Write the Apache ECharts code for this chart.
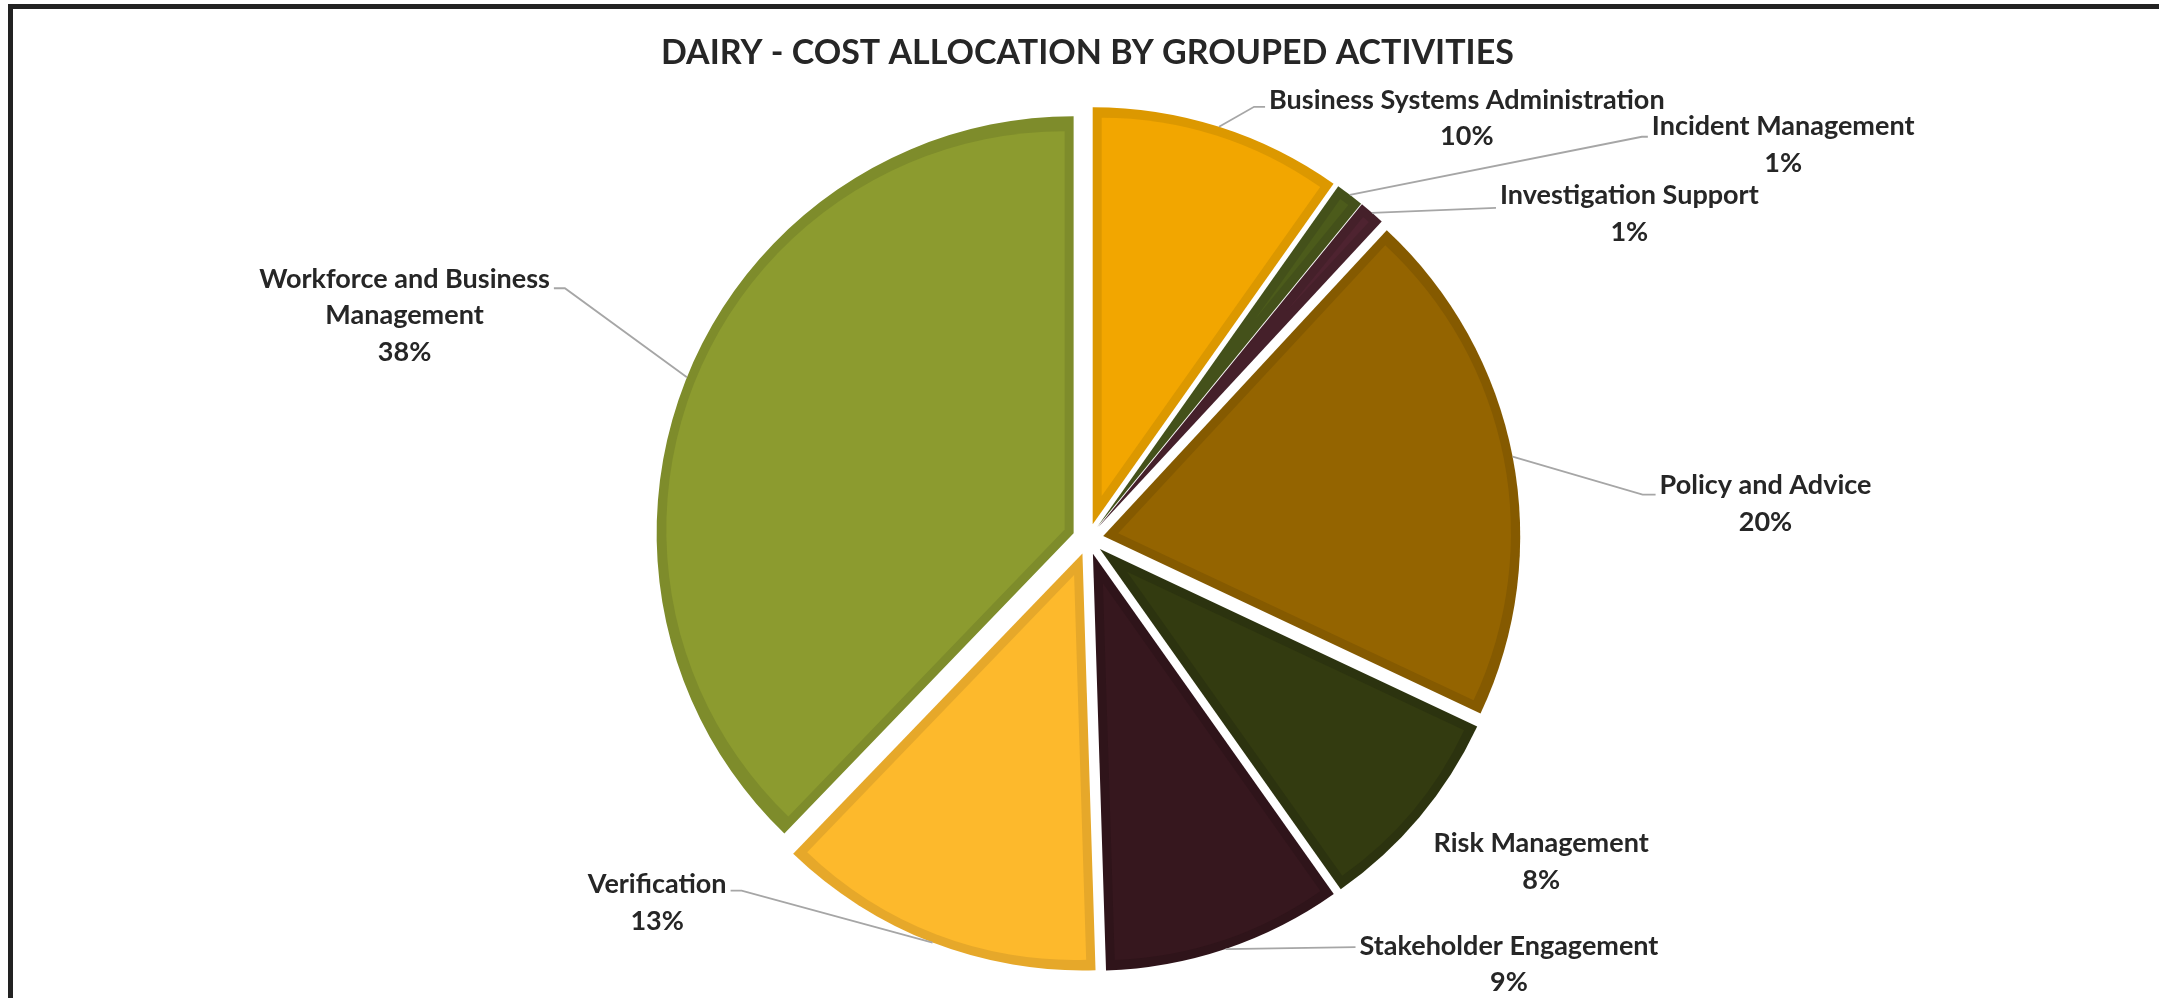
<!DOCTYPE html>
<html>
<head>
<meta charset="utf-8">
<title>Dairy - Cost Allocation by Grouped Activities</title>
<script src="https://cdn.jsdelivr.net/npm/echarts@6/dist/echarts.min.js"></script>
<style>
  html, body { margin: 0; padding: 0; background: #fff; }
  #chart { width: 2159px; height: 998px; }
</style>
</head>
<body>
<div id="chart"></div>
<script>
// slices, clockwise from 12 o'clock
var activities = [
  'Business Systems Administration',
  'Incident Management',
  'Investigation Support',
  'Policy and Advice',
  'Risk Management',
  'Stakeholder Engagement',
  'Verification',
  'Workforce and Business Management'
];
var shares = [9.8, 1.1, 1.0, 20.1, 8.2, 9.3, 12.7, 37.8];

// fill and the darker band just inside each slice edge
var fillColors = ['#F2A600', '#4C5B1B', '#4E2330', '#946400', '#333B10', '#36171E', '#FDB92C', '#8C9B2F'];
var edgeColors = ['#DC9800', '#44511A', '#45202A', '#855A00', '#2C330F', '#2F141A', '#E6A82A', '#7E8C2B'];

// leader line tweaks: elbow offset from the arc point, horizontal run, text nudge
// null run = no leader line drawn
var leaders = [
  [35, -20, 11, -7],
  [292, -58, 6, -10],
  [124, -5, 0, -12],
  [130, 38, 13, -9],
  [14, 31, null, -4],
  [130, -2, 0, -1],
  [-191, -52, -11, -6],
  [-122, -89, -11, -9]
];

var chart = echarts.init(document.getElementById('chart'));

var cx = 1088, cy = 539;  // pie centre before explosion
var radius = 417;
var explode = 15.5;       // every slice pulled out by this much
var band = 9;             // width of the darker rim
var fontFam = 'Lato, "Open Sans", sans-serif';
var labelSize = 27, lineH = 36.5;

var total = shares.reduce(function (a, b) { return a + b; }, 0);

function midAngle(i) {
  var before = 0;
  for (var k = 0; k < i; k++) before += shares[k];
  return (before + shares[i] / 2) / total * Math.PI * 2;
}

function halfAngle(i) {
  return shares[i] / total * Math.PI;
}

// one pie per slice layer, only slice i visible, pushed out along its bisector
function sliceLayer(i, offset, r, color) {
  var a = midAngle(i);
  return {
    type: 'pie',
    silent: true,
    animation: false,
    startAngle: 90,
    clockwise: true,
    center: [cx + offset * Math.sin(a), cy - offset * Math.cos(a)],
    radius: r,
    label: { show: false },
    labelLine: { show: false },
    emphasis: { disabled: true },
    data: shares.map(function (v, j) {
      return {
        name: activities[j],
        value: v,
        itemStyle: { color: color, opacity: j === i ? 1 : 0, borderWidth: 0, borderRadius: 0 }
      };
    })
  };
}

var series = [];
activities.forEach(function (n, i) {
  series.push(sliceLayer(i, explode, radius, edgeColors[i]));
});
activities.forEach(function (n, i) {
  // inner fill shrunk by the band width on every side
  var shift = band / Math.sin(halfAngle(i));
  var r = radius - shift - band;
  if (r > 0) series.push(sliceLayer(i, explode + shift, r, fillColors[i]));
});

function wrapName(name) {
  if (name.length <= 32) return [name];
  var words = name.split(' '), lines = [], cur = '';
  words.forEach(function (w) {
    var next = cur ? cur + ' ' + w : w;
    if (next.length > 22 && cur) {
      lines.push(cur);
      cur = w;
    } else {
      cur = next;
    }
  });
  lines.push(cur);
  return lines;
}

// labels ride on an invisible pie whose rim sits on the exploded slice rims
series.push({
  type: 'pie',
  silent: true,
  animation: false,
  z: 5,
  startAngle: 90,
  clockwise: true,
  center: [cx, cy],
  radius: radius + explode,
  avoidLabelOverlap: false,
  itemStyle: { color: 'rgba(0,0,0,0)', borderWidth: 0 },
  emphasis: { disabled: true },
  label: {
    show: true,
    position: 'outside',
    formatter: function (p) {
      var lines = wrapName(p.name);
      lines.push(Math.round(p.percent) + '%');
      return lines.map(function (s) { return '{c|' + s + '}'; }).join('\n');
    },
    rich: {
      c: {
        align: 'center',
        fontFamily: fontFam,
        fontWeight: 'bold',
        fontSize: labelSize,
        lineHeight: lineH,
        color: '#262626'
      }
    }
  },
  labelLine: {
    show: true,
    length: 10,
    length2: 10,
    smooth: false,
    lineStyle: { color: '#a6a6a6', width: 1.8 }
  },
  labelLayout: function (p) {
    var i = p.dataIndex;
    var t = leaders[i];
    var a = midAngle(i);
    var p0 = [cx + (radius + explode) * Math.sin(a), cy - (radius + explode) * Math.cos(a)];
    var ex = p0[0] + t[0], ey = p0[1] + t[1];
    if (t[2] === null) {
      return { x: ex, y: ey + t[3] - lineH / 2, align: 'left', verticalAlign: 'top' };
    }
    var tx = ex + t[2];
    var side = (t[0] < 0) ? 'right' : 'left';
    return {
      x: side === 'left' ? tx + 4 : tx - 4,
      y: ey + t[3] - lineH / 2,
      align: side,
      verticalAlign: 'top',
      labelLinePoints: [p0, [ex, ey], [tx, ey]]
    };
  },
  data: shares.map(function (v, j) {
    return { name: activities[j], value: v, labelLine: { show: leaders[j][2] !== null } };
  })
});

chart.setOption({
  backgroundColor: '#ffffff',
  animation: false,
  title: {
    text: 'DAIRY - COST ALLOCATION BY GROUPED ACTIVITIES',
    left: 656,
    top: 31,
    textStyle: {
      fontFamily: fontFam,
      fontWeight: 'bold',
      fontSize: 34,
      color: '#262626'
    }
  },
  graphic: [{
    type: 'rect',
    silent: true,
    shape: { x: 10.5, y: 6.5, width: 2400, height: 1200 },
    style: { fill: 'none', stroke: '#222222', lineWidth: 5 }
  }],
  series: series
});
</script>
</body>
</html>
